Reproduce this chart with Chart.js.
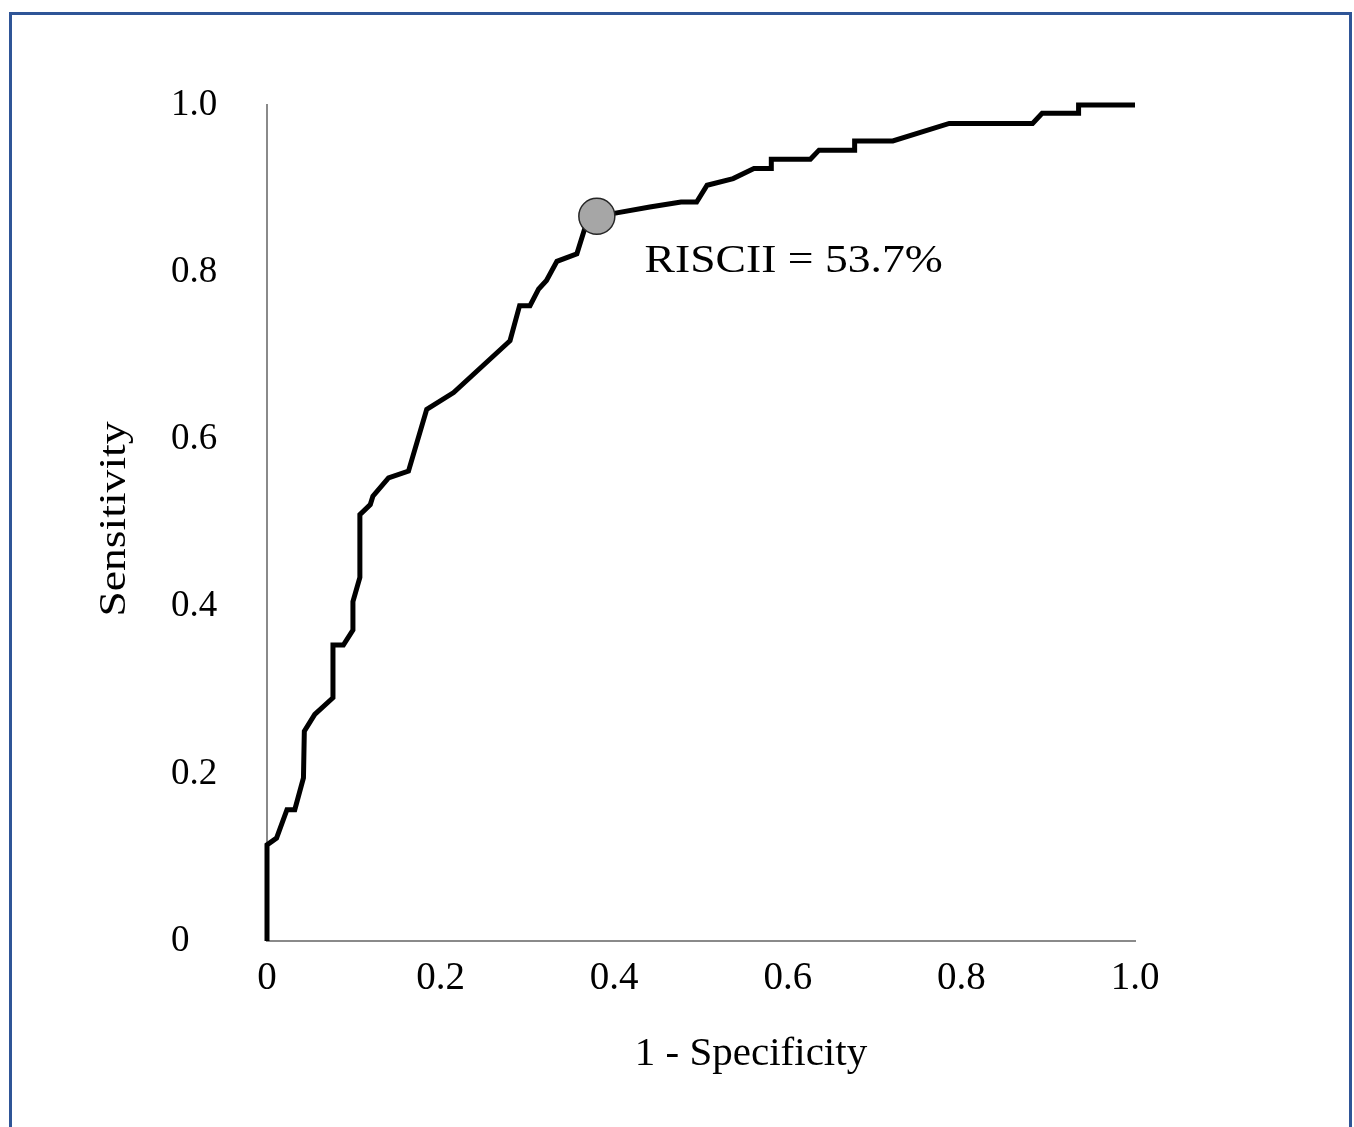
<!DOCTYPE html>
<html lang="en">
<head>
    <meta charset="UTF-8">
    <meta name="viewport" content="width=device-width, initial-scale=1.0">
    <title>ROC curve</title>
    <style>
      html, body {
        margin: 0;
        padding: 0;
        width: 1354px;
        height: 1127px;
        overflow: hidden;
        background: #fff;
      }
      .chart-box {
        position: absolute;
        left: 0;
        top: 0;
        width: 1354px;
        height: 1127px;
      }
      .frame {
        position: absolute;
        left: 9px;
        top: 12px;
        width: 1337px;
        height: 1200px;
        border: 3px solid #2f5597;
        pointer-events: none;
      }
    </style>
</head>
<body>
  <div class="chart-box"><canvas id="rocChart"></canvas></div>
  <div class="frame"></div>

  <script src="https://cdn.jsdelivr.net/npm/chart.js"></script>

  <script>
    // ROC 曲線的點 (1 - specificity, sensitivity)
    const fprValues = [
      0, 0, 0.011, 0.023, 0.032, 0.042, 0.043, 0.055, 0.076, 0.076,
      0.088, 0.099, 0.099, 0.107, 0.107, 0.119, 0.122, 0.140, 0.163, 0.184,
      0.215, 0.280, 0.291, 0.303, 0.313, 0.322, 0.334, 0.357, 0.366, 0.380,
      0.403, 0.441, 0.477, 0.495, 0.507, 0.537, 0.561, 0.581, 0.581, 0.626,
      0.636, 0.677, 0.677, 0.721, 0.786, 0.882, 0.893, 0.935, 0.935, 1.0
    ];
    const tprValues = [
      0, 0.115, 0.123, 0.157, 0.157, 0.195, 0.251, 0.271, 0.291, 0.354,
      0.354, 0.372, 0.406, 0.435, 0.510, 0.522, 0.532, 0.554, 0.562, 0.636,
      0.656, 0.718, 0.760, 0.760, 0.780, 0.790, 0.813, 0.822, 0.852, 0.867,
      0.871, 0.878, 0.884, 0.884, 0.904, 0.912, 0.924, 0.924, 0.935, 0.935,
      0.946, 0.946, 0.957, 0.957, 0.978, 0.978, 0.990, 0.990, 1.0, 1.0
    ];

    // 切點 (cut-off) 與標籤
    const cutoffFpr = [0.380];
    const cutoffTpr = [0.867];
    const cutoffLabel = 'RISCII = 53.7%';
    const cutoffLabelAt = [0.435, 0.80];  // 標籤左下角 (資料座標)

    // 座標軸刻度
    const tickValues = [0, 0.2, 0.4, 0.6, 0.8, 1.0];
    const xTickLabels = ['0', '0.2', '0.4', '0.6', '0.8', '1.0'];
    const yTickLabels = ['0', '0.2', '0.4', '0.6', '0.8', '1.0'];
    const xTitle = '1 - Specificity';
    const yTitle = 'Sensitivity';

    const serif = "'Liberation Serif', 'Times New Roman', serif";

    const rocPoints = fprValues.map((x, i) => ({ x, y: tprValues[i] }));
    const cutoffPoints = cutoffFpr.map((x, i) => ({ x, y: cutoffTpr[i] }));

    // 畫座標軸標題和切點文字
    const textPlugin = {
      id: 'rocText',
      afterDraw(chart) {
        const { ctx, chartArea, scales } = chart;

        // Sensitivity (旋轉, 稍微拉長)
        ctx.save();
        ctx.fillStyle = '#000';
        ctx.font = '38px ' + serif;
        ctx.textAlign = 'center';
        ctx.textBaseline = 'alphabetic';
        ctx.translate(chartArea.left - 142, (chartArea.top + chartArea.bottom) / 2 - 4);
        ctx.rotate(-Math.PI / 2);
        ctx.scale(1.2, 1);
        ctx.fillText(yTitle, 0, 0);
        ctx.restore();

        // 1 - Specificity
        ctx.save();
        ctx.fillStyle = '#000';
        ctx.font = '41px ' + serif;
        ctx.textAlign = 'center';
        ctx.textBaseline = 'alphabetic';
        ctx.fillText(xTitle, chartArea.left + 484, chartArea.bottom + 124);
        ctx.restore();

        // RISCII 標籤
        ctx.save();
        ctx.fillStyle = '#000';
        ctx.font = '39px ' + serif;
        ctx.textAlign = 'left';
        ctx.textBaseline = 'alphabetic';
        const lx = scales.x.getPixelForValue(cutoffLabelAt[0]);
        const ly = scales.y.getPixelForValue(cutoffLabelAt[1]);
        ctx.translate(lx, ly);
        ctx.scale(1.17, 1);
        ctx.fillText(cutoffLabel, 0, 0);
        ctx.restore();
      }
    };

    const ctx = document.getElementById('rocChart').getContext('2d');

    const rocChart = new Chart(ctx, {
      type: 'scatter',
      data: {
        datasets: [
          {
            label: 'cut-off',
            data: cutoffPoints,
            order: 0,
            pointRadius: 18,
            pointHoverRadius: 18,
            backgroundColor: '#a6a6a6',
            borderColor: '#262626',
            borderWidth: 1.5,
            clip: false
          },
          {
            label: 'ROC',
            data: rocPoints,
            order: 1,
            showLine: true,
            tension: 0,
            pointRadius: 0,
            pointHoverRadius: 0,
            borderColor: '#000',
            borderWidth: 5,
            borderJoinStyle: 'miter',
            clip: false
          }
        ]
      },
      options: {
        responsive: true,
        maintainAspectRatio: false,
        animation: false,
        events: [],
        layout: {
          padding: { left: 171, right: 219, top: 105, bottom: 0 }
        },
        plugins: {
          legend: { display: false },
          tooltip: { enabled: false }
        },
        scales: {
          x: {
            type: 'linear',
            position: 'bottom',
            min: 0,
            max: 1,
            afterBuildTicks: (scale) => { scale.ticks = tickValues.map(v => ({ value: v })); },
            afterFit: (scale) => { scale.height = 186; },
            grid: { display: false, drawTicks: false },
            border: { display: true, color: '#8a8a8a', width: 2 },
            ticks: {
              padding: 14,
              color: '#000',
              font: { family: serif, size: 39 },
              maxRotation: 0,
              callback: (value, index) => xTickLabels[index]
            },
            title: { display: false }
          },
          y: {
            type: 'linear',
            position: 'left',
            min: 0,
            max: 1,
            afterBuildTicks: (scale) => { scale.ticks = tickValues.map(v => ({ value: v })); },
            afterFit: (scale) => { scale.width = 96; },
            grid: { display: false, drawTicks: false },
            border: { display: true, color: '#8a8a8a', width: 2 },
            ticks: {
              crossAlign: 'far',
              padding: 0,
              color: '#000',
              font: { family: serif, size: 37 },
              callback: (value, index) => yTickLabels[index]
            },
            title: { display: false }
          }
        }
      },
      plugins: [textPlugin]
    });
  </script>
</body>
</html>
